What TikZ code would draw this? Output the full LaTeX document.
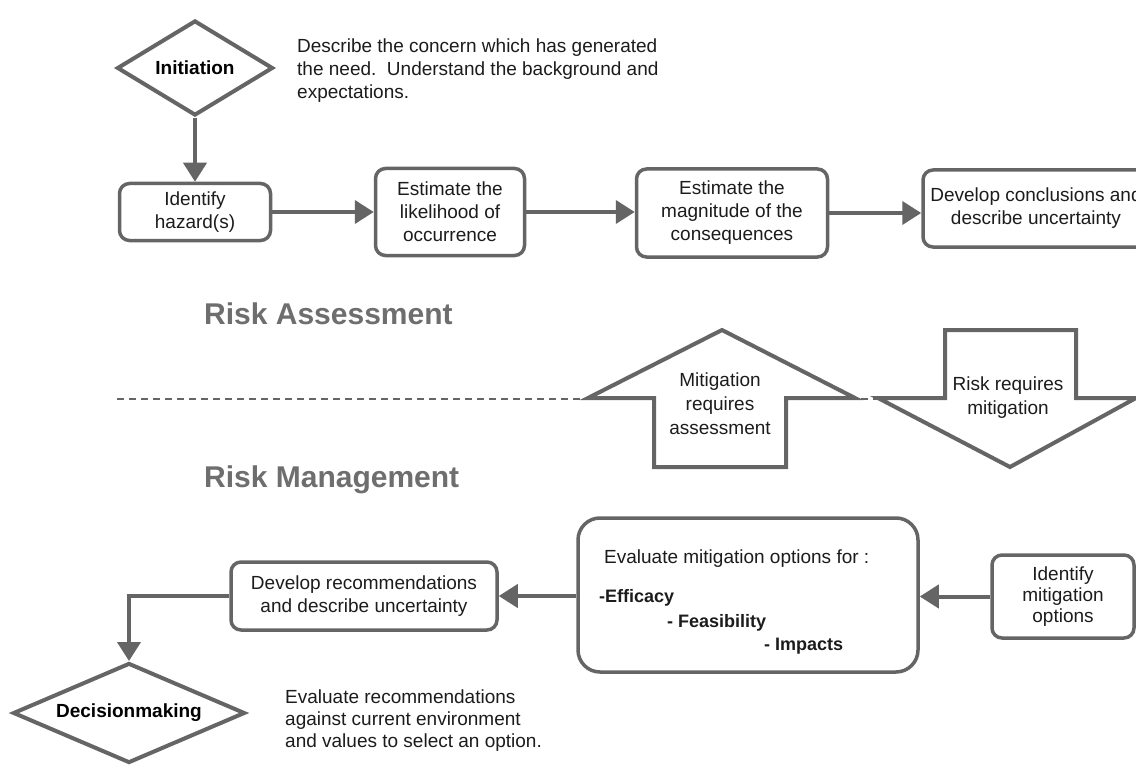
\documentclass[tikz,border=0pt]{standalone}
\usepackage{fontspec}
\setmainfont{Liberation Sans}
\usetikzlibrary{shapes.geometric,arrows.meta}

\definecolor{flow-gray}{HTML}{656565}
\definecolor{title-gray}{HTML}{6e6e6e}
\definecolor{body-text}{HTML}{1c1c1c}

\tikzstyle{step-box}=[draw=flow-gray, line width=3.5pt, rounded corners=10pt, fill=white, align=center, text=body-text, font=\fontsize{19}{23}\selectfont, inner sep=0pt]
\tikzstyle{decision}=[diamond, draw=flow-gray, line width=4pt, fill=white, text=black, font=\bfseries\fontsize{19}{22}\selectfont, inner sep=0pt]
\tikzstyle{flow}=[draw=flow-gray, line width=4pt, -{Triangle[length=19pt,width=23pt]}]
\tikzstyle{note}=[anchor=base west, align=left, text=body-text, font=\fontsize{19}{23}\selectfont, inner sep=0pt]
\tikzstyle{phase}=[anchor=base west, text=title-gray, font=\bfseries\fontsize{30}{32}\selectfont, inner sep=0pt]
\tikzstyle{big-arrow}=[draw=flow-gray, line width=4pt, fill=white, line join=miter]
\tikzstyle{separator}=[draw=flow-gray, line width=2.5pt, dash pattern=on 7pt off 5pt]

\begin{document}
\begin{tikzpicture}[x=1pt, y=-1pt]
       \useasboundingbox (0,0) rectangle (1136,765);
       \clip (0,0) rectangle (1136,765);
       \fill [white] (0,0) rectangle (1136,765);

       \node (initiation) at (195, 68)
             [decision, aspect=1.64, minimum width=156pt, minimum height=95pt] {Initiation};
       \node (init-note) at (297, 99)
             [note] {Describe the concern which has generated\\the need.\ \ Understand the background and\\expectations.};

       \node (hazard) at (195, 212)
             [step-box, minimum width=151pt, minimum height=57pt] {Identify\\hazard(s)};
       \node (likelihood) at (450, 212)
             [step-box, minimum width=149pt, minimum height=87pt] {Estimate the\\likelihood of\\occurrence};
       \node (magnitude) at (732, 213)
             [step-box, minimum width=191pt, minimum height=88pt] {Estimate the\\magnitude of the\\consequences};
       \node (conclusions) at (1036, 208.5)
             [step-box, minimum width=226pt, minimum height=77pt] {Develop conclusions and\\describe uncertainty};

       \draw [flow] (initiation) -- (hazard);
       \draw [flow] (hazard) -- (likelihood);
       \draw [flow] (likelihood) -- (likelihood -| magnitude.west);
       \draw [flow] (magnitude.east) -- (magnitude.east -| conclusions.west);

       \node (assessment) at (204, 324) [phase] {Risk Assessment};
       \node (management) at (204, 487) [phase] {Risk Management};

       \draw [separator] (117, 399) -- (880, 399);

       \draw [big-arrow] (722, 330) -- (855, 398) -- (786, 398) -- (786, 467)
             -- (654, 467) -- (654, 398) -- (588, 398) -- cycle;
       \node (mitigation-up) at (720, 404)
             [align=center, text=body-text, font=\fontsize{19}{24}\selectfont] {Mitigation\\requires\\assessment};
       \draw [big-arrow] (945, 330) -- (1076, 330) -- (1076, 398) -- (1136, 398)
             -- (1010, 467) -- (878, 398) -- (945, 398) -- cycle;
       \node (risk-down) at (1008, 398)
             [align=center, text=body-text, font=\fontsize{19}{24}\selectfont] {Risk requires\\mitigation};

       \node (identify-options) at (1063, 596.5)
             [step-box, minimum width=142pt, minimum height=83pt, font=\fontsize{19}{21}\selectfont] {Identify\\mitigation\\options};
       \node (evaluate) at (748, 595)
             [step-box, rounded corners=22pt, minimum width=340pt, minimum height=154pt] {};
       \node (eval-title) at (604, 563) [note] {Evaluate mitigation options for :};
       \node (eval-efficacy) at (599, 602) [note, font=\bfseries\fontsize{18}{20}\selectfont] {-Efficacy};
       \node (eval-feasibility) at (667, 627) [note, font=\bfseries\fontsize{18}{20}\selectfont] {- Feasibility};
       \node (eval-impacts) at (764, 650) [note, font=\bfseries\fontsize{18}{20}\selectfont] {- Impacts};
       \node (recommend) at (364, 596)
             [step-box, minimum width=266pt, minimum height=68pt] {Develop recommendations\\and describe uncertainty};

       \node (decisionmaking) at (129, 713)
             [decision, aspect=2.33, minimum width=232pt, minimum height=100pt] {Decisionmaking};
       \node (decide-note) at (285, 747)
             [note, font=\fontsize{19}{22}\selectfont] {Evaluate recommendations\\against current environment\\and values to select an option.};

       \draw [flow] (identify-options.west) -- (identify-options.west -| evaluate.east);
       \draw [flow] (evaluate.west |- recommend) -- (recommend);
       \draw [flow] (recommend.west) -| (decisionmaking.north);
    \end{tikzpicture}
\end{document}
